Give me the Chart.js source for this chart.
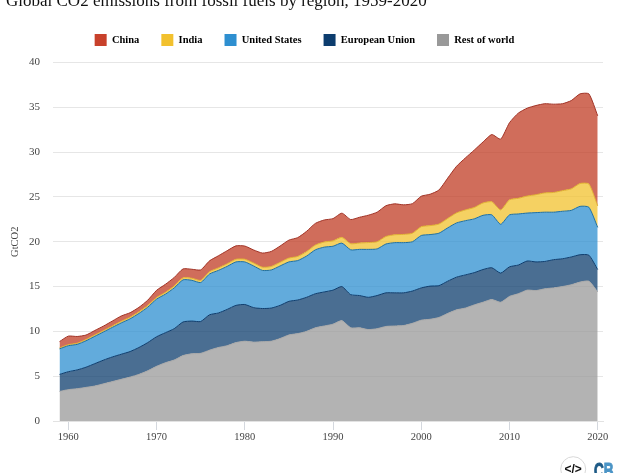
<!DOCTYPE html>
<html><head><meta charset="utf-8">
<style>html,body{margin:0;padding:0;background:#fff;overflow:hidden;width:630px;height:473px}
#w{position:absolute;left:0;top:-12px;width:630px;height:485px}</style>
<script src="https://cdn.jsdelivr.net/npm/chart.js@4"></script></head>
<body><div id="w"><canvas id="c"></canvas></div>
<script>
const titleText = "Global CO2 emissions from fossil fuels by region, 1959-2020";
const years = [1959,1960,1961,1962,1963,1964,1965,1966,1967,1968,1969,1970,1971,1972,1973,1974,1975,1976,1977,1978,1979,1980,1981,1982,1983,1984,1985,1986,1987,1988,1989,1990,1991,1992,1993,1994,1995,1996,1997,1998,1999,2000,2001,2002,2003,2004,2005,2006,2007,2008,2009,2010,2011,2012,2013,2014,2015,2016,2017,2018,2019,2020];
const restOfWorld = [3.3,3.5,3.6,3.75,3.9,4.15,4.4,4.65,4.9,5.2,5.6,6.1,6.5,6.8,7.3,7.5,7.55,7.9,8.2,8.4,8.75,8.9,8.8,8.85,8.9,9.2,9.6,9.75,10.0,10.4,10.6,10.8,11.2,10.4,10.4,10.2,10.3,10.55,10.6,10.65,10.9,11.25,11.35,11.55,12.0,12.4,12.6,12.95,13.25,13.55,13.25,13.9,14.2,14.6,14.55,14.75,14.85,15.0,15.2,15.5,15.6,14.4];
const europeanUnion = [1.9,2.0,2.1,2.25,2.5,2.65,2.75,2.8,2.85,3.0,3.15,3.3,3.35,3.5,3.75,3.65,3.55,3.95,3.85,4.05,4.15,4.1,3.85,3.7,3.7,3.7,3.75,3.75,3.8,3.8,3.8,3.8,3.8,3.7,3.6,3.6,3.7,3.75,3.7,3.65,3.6,3.6,3.7,3.55,3.6,3.65,3.7,3.6,3.65,3.55,3.25,3.3,3.2,3.25,3.2,3.05,3.15,3.1,3.1,3.05,2.9,2.5];
const unitedStates = [2.85,2.9,2.85,2.95,3.05,3.15,3.3,3.5,3.65,3.8,3.95,4.2,4.3,4.55,4.7,4.55,4.35,4.55,4.75,4.8,4.85,4.75,4.65,4.25,4.25,4.4,4.4,4.4,4.6,4.9,5.0,4.9,4.85,5.0,5.15,5.35,5.2,5.45,5.6,5.6,5.5,5.85,5.75,5.85,5.95,6.05,6.05,6.0,6.05,5.9,5.45,5.8,5.7,5.35,5.5,5.5,5.3,5.3,5.2,5.4,5.35,4.7];
const india = [0.11,0.12,0.13,0.14,0.15,0.15,0.16,0.17,0.18,0.18,0.18,0.18,0.2,0.21,0.22,0.23,0.24,0.26,0.28,0.29,0.3,0.3,0.33,0.36,0.39,0.4,0.43,0.46,0.5,0.53,0.57,0.6,0.64,0.68,0.71,0.76,0.8,0.84,0.88,0.92,0.95,0.98,1.0,1.02,1.05,1.12,1.2,1.27,1.38,1.46,1.6,1.68,1.75,1.9,2.0,2.15,2.2,2.3,2.4,2.55,2.6,2.4];
const china = [0.7,0.95,0.75,0.5,0.5,0.5,0.55,0.6,0.5,0.5,0.6,0.8,0.9,0.95,1.0,1.0,1.17,1.21,1.35,1.46,1.49,1.47,1.45,1.58,1.68,1.82,2.0,2.1,2.26,2.42,2.46,2.48,2.7,2.7,2.87,3.05,3.3,3.43,3.45,3.3,3.3,3.4,3.5,3.8,4.5,5.2,5.8,6.4,6.8,7.5,7.9,8.6,9.5,9.8,9.95,9.95,9.85,9.7,9.85,10.0,10.05,10.05];
const seriesNames = ["Rest of world","European Union","United States","India","China"];
const lineColors = ["#999999","#0d3d6e","#2e8fd0","#f2c12e","#c8412b"];
const fillColors = ["rgba(153,153,153,.75)","rgba(13,61,110,.75)","rgba(46,143,208,.75)","rgba(242,193,46,.75)","rgba(192,60,36,.75)"];
const borderColors = ["#a8a8a8","#0d3d6e","#1f6f9f","#e0b030","#a03225"];
const seriesValues = [restOfWorld,europeanUnion,unitedStates,india,china];

const logo = {id:'logo',afterDraw(chart){
  const c=chart.ctx;const oy=12;c.save();
  c.beginPath();c.arc(573.2,469.2+oy,12.5,0,Math.PI*2);c.strokeStyle='#d8d8d8';c.lineWidth=1;c.stroke();
  c.fillStyle='#111';c.font='bold 12px "Liberation Sans"';c.textAlign='center';c.textBaseline='middle';
  c.fillText('</>',573.2,469.5+oy);
  c.textAlign='left';c.textBaseline='alphabetic';
  c.translate(594,477.5+oy);c.scale(.62,1);c.font='bold 22px "Liberation Sans"';c.lineWidth=1;
  c.fillStyle=c.strokeStyle='#1d5a86';c.fillText('C',0,0);c.strokeText('C',0,0);
  const w=c.measureText('C').width;c.fillStyle=c.strokeStyle='#4a94c6';c.fillText('B',w,0);c.strokeText('B',w,0);
  c.restore();
}};

new Chart(document.getElementById('c'),{
  type:'line',
  data:{datasets:seriesNames.map((n,i)=>({
    label:n,
    data:years.map((x,j)=>({x,y:seriesValues[i][j]})),
    backgroundColor:fillColors[i],borderColor:borderColors[i],borderWidth:1,
    pointRadius:0,tension:0.2,fill:i===0?'origin':'-1'
  }))},
  options:{
    responsive:true,maintainAspectRatio:false,animation:false,
    layout:{padding:{left:6,right:27,top:0,bottom:0}},
    plugins:{
      tooltip:{enabled:false},
      title:{display:true,text:titleText,align:'start',color:'#111',
        font:{family:'"Liberation Serif"',size:17,lineHeight:1,weight:'normal'},padding:{top:5.5,bottom:1.5}},
      legend:{position:'top',labels:{boxWidth:12,boxHeight:12,padding:22,color:'#222',
        font:{family:'"Liberation Serif"',size:10.5,weight:'bold'},
        generateLabels(ch){return ch.data.datasets.map((d,i)=>({text:d.label,fillStyle:lineColors[i],strokeStyle:lineColors[i],lineWidth:0,datasetIndex:i})).reverse();}}}
    },
    scales:{
      x:{type:'linear',min:1958.26,max:2020.6,
        grid:{drawOnChartArea:false,drawTicks:true,tickLength:9,color:'#d4d8de'},
        border:{color:'#e2e2e2'},
        ticks:{stepSize:10,includeBounds:false,maxRotation:0,padding:1,color:'#444',font:{family:'"Liberation Serif"',size:10.5},callback:v=>String(v)},
        afterFit(s){s.height=52;}},
      topSpacer:{type:'linear',position:'top',display:true,grid:{display:false},border:{display:false},ticks:{display:false},afterFit(s){s.height=6.5;}},
      y:{stacked:true,min:0,max:40,
        grid:{color:'#e6e6e6',drawTicks:false,tickLength:0},
        border:{display:false},
        ticks:{stepSize:5,padding:13,color:'#444',font:{family:'"Liberation Serif"',size:11}},
        title:{display:true,text:'GtCO2',color:'#444',font:{family:'"Liberation Serif"',size:10.5},padding:{top:2.7,bottom:0}},
        afterFit(s){s.width=47;}}
    }
  },
  plugins:[logo]
});
</script></body></html>
